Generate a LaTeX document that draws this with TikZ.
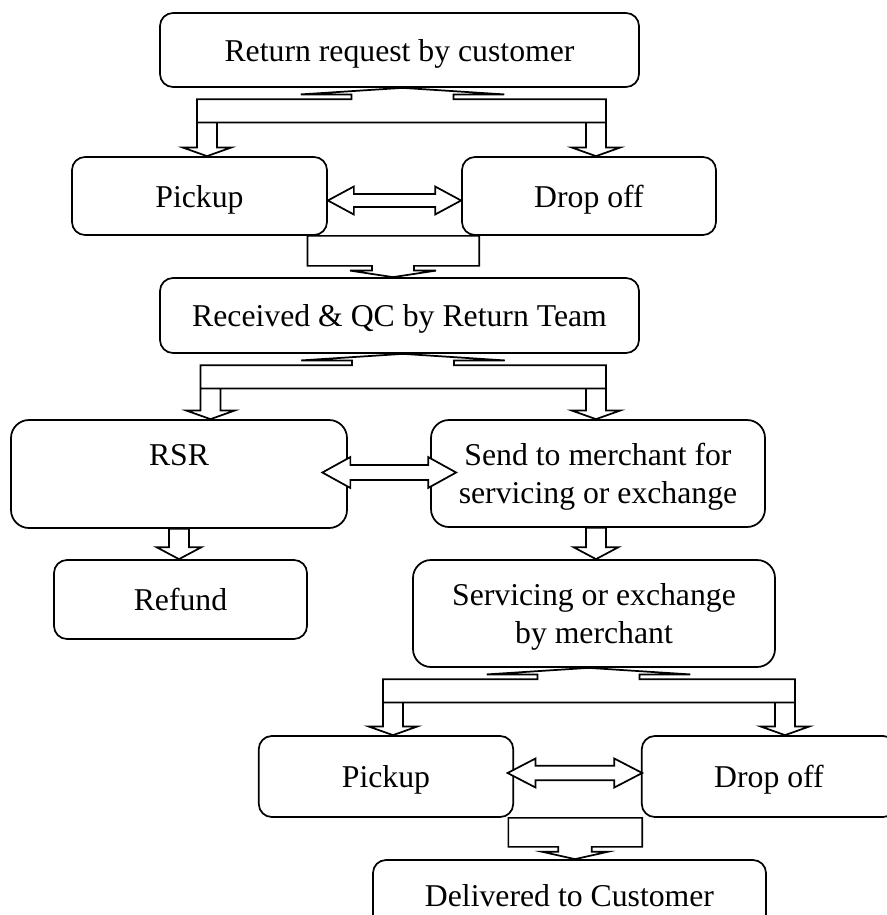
\documentclass[tikz,border=0pt]{standalone}
\usepackage{fontspec}
\setmainfont{Liberation Serif}
\usepackage{tikz}
\usetikzlibrary{calc,positioning}
\tikzstyle{box} = [rectangle, rounded corners=9.75pt, draw, fill=white, align=center, inner sep=0pt, text depth=0pt, line width=1.3pt, font=\fontsize{23.8}{28.6}\selectfont]
\tikzstyle{tallbox} = [box, rounded corners=13.5pt]
\tikzstyle{blockarrow} = [draw, fill=white, line width=1.3pt, line join=miter]
% three-headed fork: apex under source, two tips on targets
\newcommand{\forkblock}[3]{%
  \draw[blockarrow] let \p1=#1, \p2=#2, \p3=#3 in
    (\x1,\y1) -- (\x1+76.3pt,\y1-4.9pt) -- (\x1+38.2pt,\y1-4.9pt) -- (\x1+38.2pt,\y1-8.6pt)
    -- (\x3+7.5pt,\y1-8.6pt) -- (\x3+7.5pt,\y3+6.4pt) -- (\x3+18pt,\y3+6.4pt) -- (\x3,\y3)
    -- (\x3-18pt,\y3+6.4pt) -- (\x3-7.5pt,\y3+6.4pt) -- (\x3-7.5pt,\y1-25.9pt)
    -- (\x2+7.5pt,\y1-25.9pt) -- (\x2+7.5pt,\y2+6.4pt) -- (\x2+18pt,\y2+6.4pt) -- (\x2,\y2)
    -- (\x2-18pt,\y2+6.4pt) -- (\x2-7.5pt,\y2+6.4pt) -- (\x2-7.5pt,\y1-8.6pt)
    -- (\x1-38.2pt,\y1-8.6pt) -- (\x1-38.2pt,\y1-4.9pt) -- (\x1-76.3pt,\y1-4.9pt) -- cycle
    (\x2-7.5pt,\y1-25.9pt) -- (\x2+7.5pt,\y1-25.9pt)
    (\x3-7.5pt,\y1-25.9pt) -- (\x3+7.5pt,\y1-25.9pt);}
% bracket joining two boxes into one below
\newcommand{\mergeblock}[7]{%
  \draw[blockarrow] let \p1=#1, \p2=#2, \p3=#3 in
    (\x1,\y1) -- (\x1,\y1-#7) -- (\x3-#4,\y1-#7) -- (\x3-#4,\y3+#6) -- (\x3-#5,\y3+#6) -- (\x3,\y3)
    -- (\x3+#5,\y3+#6) -- (\x3+#4,\y3+#6) -- (\x3+#4,\y1-#7) -- (\x2,\y1-#7) -- (\x2,\y2) -- cycle;}
% left-right arrow
\newcommand{\dblblock}[5]{%
  \draw[blockarrow] let \p1=#1, \p2=#2 in
    (\x1,\y1) -- (\x1+#5,\y1+#4) -- (\x1+#5,\y1+#3) -- (\x2-#5,\y2+#3) -- (\x2-#5,\y2+#4) -- (\x2,\y2)
    -- (\x2-#5,\y2-#4) -- (\x2-#5,\y2-#3) -- (\x1+#5,\y1-#3) -- (\x1+#5,\y1-#4) -- cycle;}
% straight down arrow
\newcommand{\downblock}[5]{%
  \draw[blockarrow] let \p1=#1, \p2=#2 in
    (\x1-#3,\y1) -- (\x1-#3,\y2+#5) -- (\x1-#4,\y2+#5) -- (\x1,\y2) -- (\x1+#4,\y2+#5)
    -- (\x1+#3,\y2+#5) -- (\x1+#3,\y1) -- cycle;}
\begin{document}
\begin{tikzpicture}[x=0.75pt, y=-0.75pt]
    \useasboundingbox (0,0) rectangle (887,915);
    % Boxes
    \node[box, minimum width=359.25pt, minimum height=55.5pt] (request) at (399.5,50) {Return request by customer};
    \node[box, minimum width=191.25pt, minimum height=58.5pt] (pickup) at (199.5,196) {Pickup};
    \node[box, minimum width=190.5pt, minimum height=58.5pt] (dropoff) at (589,196) {Drop off};
    \node[box, minimum width=359.25pt, minimum height=56.25pt] (qc) at (399.5,315.5) {Received \& QC by Return Team};
    \node[tallbox, minimum width=252pt, minimum height=81pt] (rsr) at (179,474) {RSR\\\mbox{}};
    \node[tallbox, minimum width=250.5pt, minimum height=80.25pt] (merchant) at (598,473.5) {Send to merchant for\\servicing or exchange};
    \node[box, minimum width=189.75pt, minimum height=59.25pt] (refund) at (180.5,599.5) {Refund};
    \node[tallbox, minimum width=271.5pt, minimum height=80.25pt] (service) at (594,613.5) {Servicing or exchange\\by merchant};
    \node[box, minimum width=190.8pt, minimum height=60.75pt] (pickup2) at (386,776.5) {Pickup};
    \node[box, minimum width=190.8pt, minimum height=60.75pt] (dropoff2) at (769,776.5) {Drop off};
    \node[box, minimum width=294.75pt, minimum height=52.5pt] (delivered) at (569.5,895) {Delivered to Customer};

    % Block arrows
    \forkblock{($(request.south)+(3,0)$)}{($(pickup.north)+(7.5,0)$)}{($(dropoff.north)+(7,0)$)}
    \dblblock{($(pickup.east)+(0,4.5)$)}{($(dropoff.west)+(0,4.5)$)}{4.8pt}{10.5pt}{19.5pt}
    \mergeblock{($(pickup.south east)+(-20.3,0)$)}{($(dropoff.south west)+(18,0)$)}{($(qc.north)+(-6.5,0)$)}{15.75pt}{32.25pt}{4.9pt}{22.5pt}
    \forkblock{($(qc.south)+(3.5,0)$)}{($(rsr.north)+(31.5,0)$)}{($(merchant.north)+(-2,0)$)}
    \dblblock{($(rsr.east)+(-25.5,-1.5)$)}{($(merchant.west)+(26,-1)$)}{5.6pt}{11.6pt}{21pt}
    \downblock{(rsr.south)}{(refund.north)}{7.5pt}{16.9pt}{9pt}
    \downblock{($(merchant.south)+(-2,0)$)}{(service.north)}{7.5pt}{16.9pt}{9pt}
    \forkblock{($(service.south)+(-5.5,0)$)}{($(pickup2.north)+(7,0)$)}{($(dropoff2.north)+(16,0)$)}
    \dblblock{($(pickup2.east)+(-6.5,-3.5)$)}{($(dropoff2.west)+(1.3,-3.5)$)}{5.4pt}{10.9pt}{21pt}
    \mergeblock{($(pickup2.south east)+(-5.7,0)$)}{($(dropoff2.south west)+(1.3,0)$)}{($(delivered.north)+(5.5,0)$)}{12.5pt}{24.5pt}{5.5pt}{21.75pt}
\end{tikzpicture}
\end{document}
